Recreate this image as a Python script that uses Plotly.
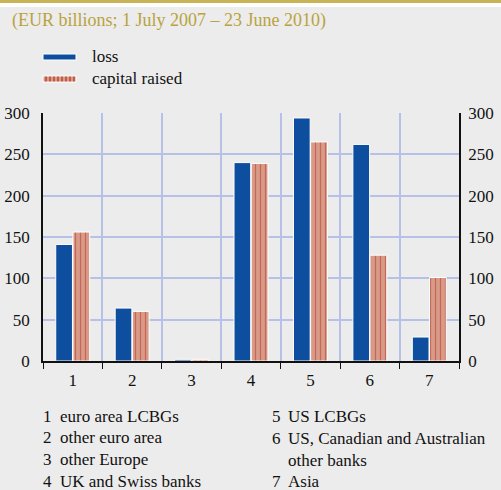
import plotly.graph_objects as go

categories = ["1", "2", "3", "4", "5", "6", "7"]
loss = [141, 64, 2, 240, 294, 262, 29]
capital_raised = [156, 60, 2, 239, 265, 128, 101]
y_ticks = [0, 50, 100, 150, 200, 250, 300]
footnotes_left = ["euro area LCBGs", "other euro area", "other Europe", "UK and Swiss banks"]
footnotes_right = ["US LCBGs", "US, Canadian and Australian<br>other banks", "Asia"]

FONT = "Liberation Serif"
BG = "#ececec"
GRID = "#b7c0e6"
BLUE = "#0d4f9e"
SALMON = "#d99a88"
STRIPE = "#b03423"

fig = go.Figure()
fig.add_trace(go.Bar(
    x=categories, y=loss, name="loss",
    marker=dict(color=BLUE, line=dict(color="white", width=1)),
))
fig.add_trace(go.Bar(
    x=categories, y=capital_raised, name="capital raised",
    marker=dict(color=SALMON, line=dict(color="white", width=1),
                pattern=dict(shape="|", fgcolor=STRIPE, bgcolor=SALMON,
                             size=5, solidity=0.25)),
))
# invisible trace for the right-hand axis
fig.add_trace(go.Scatter(x=categories, y=loss, yaxis="y2", mode="markers",
                         marker=dict(opacity=0), hoverinfo="skip", showlegend=False))

fig.update_layout(
    width=501, height=490,
    margin=dict(l=43, r=42, t=113, b=129),
    paper_bgcolor=BG, plot_bgcolor=BG,
    font=dict(family=FONT, size=17, color="#111111"),
    barmode="group", bargap=0.42, bargroupgap=0.03,
    showlegend=False,
    xaxis=dict(
        type="category", tickson="boundaries", ticks="outside", ticklen=6,
        tickcolor="#111111", showline=True, linecolor="#111111", linewidth=1.5,
        showgrid=True, gridcolor=GRID, gridwidth=1.5, automargin=False,
        tickfont=dict(size=17), range=[-0.5, 6.5], ticklabelstandoff=3,
    ),
    yaxis=dict(
        range=[0, 300], tickvals=y_ticks, showgrid=True, gridcolor=GRID, gridwidth=1.5,
        showline=True, linecolor="#111111", linewidth=1.5, ticks="", automargin=False,
        zeroline=False, tickfont=dict(size=17), ticklabelstandoff=8,
    ),
    yaxis2=dict(
        range=[0, 300], tickvals=y_ticks, overlaying="y", side="right",
        showgrid=False, showline=True, linecolor="#111111", linewidth=1.5, automargin=False,
        ticks="", zeroline=False, tickfont=dict(size=17), ticklabelstandoff=4,
    ),
)

# pixel -> paper conversion for decorations
pw, ph = 501 - 43 - 42, 490 - 113 - 129
def px_x(p):
    return (p - 43) / pw
def px_y(p):
    return (490 - 129 - p) / ph

shapes = [
    dict(type="rect", xref="paper", yref="paper", x0=px_x(0), x1=px_x(501), y0=px_y(3), y1=px_y(0),
         fillcolor="#c9b556", line=dict(width=0), layer="below"),
    dict(type="rect", xref="paper", yref="paper", x0=px_x(0), x1=px_x(501), y0=px_y(7), y1=px_y(3),
         fillcolor="white", line=dict(width=0), layer="below"),
]

# hand-drawn legend keys
shapes.append(dict(type="rect", xref="paper", yref="paper",
                   x0=px_x(43), x1=px_x(76), y0=px_y(60), y1=px_y(54),
                   fillcolor=BLUE, line=dict(color="white", width=1)))
shapes.append(dict(type="rect", xref="paper", yref="paper",
                   x0=px_x(43), x1=px_x(76), y0=px_y(82), y1=px_y(76),
                   fillcolor=SALMON, line=dict(color="white", width=1)))
for sx in range(46, 76, 4):
    shapes.append(dict(type="line", xref="paper", yref="paper",
                       x0=px_x(sx), x1=px_x(sx), y0=px_y(81.5), y1=px_y(76.5),
                       line=dict(color=STRIPE, width=1.2)))
fig.update_layout(shapes=shapes)

annotations = [
    dict(text="(EUR billions; 1 July 2007 \u2013 23 June 2010)", xref="paper", yref="paper",
         x=px_x(10), y=px_y(20), xanchor="left", yanchor="middle", showarrow=False,
         font=dict(size=18, color="#b9a33e")),
    dict(text="loss", xref="paper", yref="paper", x=px_x(90), y=px_y(57),
         xanchor="left", yanchor="middle", showarrow=False),
    dict(text="capital raised", xref="paper", yref="paper", x=px_x(90), y=px_y(78),
         xanchor="left", yanchor="middle", showarrow=False),
]
line_h = 21.7
for i, t in enumerate(footnotes_left):
    yy = 416 + i * line_h
    annotations.append(dict(text=str(i + 1), xref="paper", yref="paper", x=px_x(41), y=px_y(yy),
                            xanchor="left", yanchor="middle", showarrow=False))
    annotations.append(dict(text=t, xref="paper", yref="paper", x=px_x(58), y=px_y(yy),
                            xanchor="left", yanchor="middle", showarrow=False))
row = 0
for j, t in enumerate(footnotes_right):
    yy = 416 + row * line_h
    annotations.append(dict(text=str(j + 5), xref="paper", yref="paper", x=px_x(270), y=px_y(yy),
                            xanchor="left", yanchor="top", showarrow=False, yshift=11))
    annotations.append(dict(text=t, xref="paper", yref="paper", x=px_x(286), y=px_y(yy),
                            xanchor="left", yanchor="top", showarrow=False, yshift=11,
                            align="left"))
    row += t.count("<br>") + 1
fig.update_layout(annotations=annotations)

fig.write_html("out.html", config={"displayModeBar": False},
               post_script="document.body.style.margin='0';")
